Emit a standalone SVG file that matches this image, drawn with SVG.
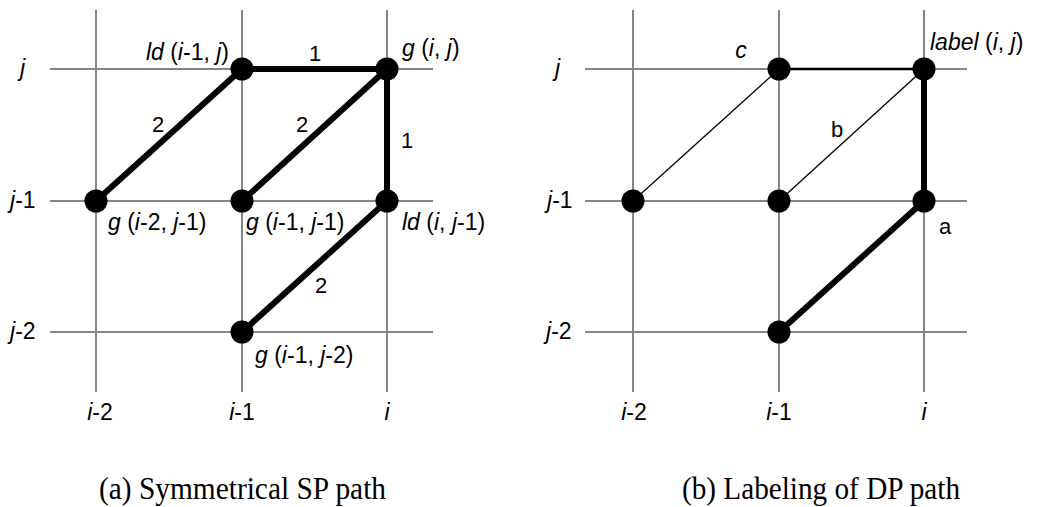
<svg xmlns="http://www.w3.org/2000/svg" width="1043" height="507" viewBox="0 0 1043 507">
<style>
.grid{stroke:#858585;stroke-width:2;fill:none}
.thick{stroke:#000;stroke-width:6;fill:none;stroke-linecap:round}
.mid{stroke:#000;stroke-width:2.5;fill:none}
.thin{stroke:#000;stroke-width:1.3;fill:none}
.node{fill:#000}
text{font-family:"Liberation Sans",Arial,sans-serif;font-size:23px;fill:#000}
.el{font-size:22px}
.cap{font-family:"Liberation Serif","Times New Roman",serif;font-size:31px}
.it{font-style:italic}
</style>
<rect width="1043" height="507" fill="#fff"/>
<g id="grid-a">
<line class="grid" x1="50" y1="69" x2="433" y2="69"/>
<line class="grid" x1="50" y1="201" x2="433" y2="201"/>
<line class="grid" x1="50" y1="332" x2="433" y2="332"/>
<line class="grid" x1="96" y1="10" x2="96" y2="392"/>
<line class="grid" x1="242" y1="10" x2="242" y2="392"/>
<line class="grid" x1="387" y1="10" x2="387" y2="392"/>
</g>
<g id="grid-b">
<line class="grid" x1="585" y1="69" x2="967" y2="69"/>
<line class="grid" x1="585" y1="201" x2="967" y2="201"/>
<line class="grid" x1="585" y1="332" x2="967" y2="332"/>
<line class="grid" x1="633" y1="10" x2="633" y2="392"/>
<line class="grid" x1="779" y1="10" x2="779" y2="392"/>
<line class="grid" x1="924" y1="10" x2="924" y2="392"/>
</g>
<g id="connectors">
<line class="thick" x1="242" y1="69" x2="387" y2="69"/>
<line class="thick" x1="96" y1="201" x2="242" y2="69"/>
<line class="thick" x1="242" y1="201" x2="387" y2="69"/>
<line class="thick" x1="387" y1="69" x2="387" y2="201"/>
<line class="thick" x1="387" y1="201" x2="242" y2="332"/>
<line class="mid" x1="779" y1="69" x2="924" y2="69"/>
<line class="thin" x1="633" y1="201" x2="779" y2="69"/>
<line class="thin" x1="779" y1="201" x2="924" y2="69"/>
<line class="thick" x1="924" y1="69" x2="924" y2="201"/>
<line class="thick" x1="924" y1="201" x2="779" y2="332"/>
</g>
<g id="edge-labels">
<text class="el" x="315" y="61" text-anchor="middle">1</text>
<text class="el" x="158" y="132" text-anchor="middle">2</text>
<text class="el" x="302" y="132" text-anchor="middle">2</text>
<text class="el" x="407" y="148" text-anchor="middle">1</text>
<text class="el" x="321" y="293" text-anchor="middle">2</text>
<text class="el" x="837" y="137" text-anchor="middle">b</text>
<text class="el" x="945" y="234" text-anchor="middle">a</text>
</g>
<g id="n-ld-i1-j"><circle class="node" cx="242" cy="69" r="11.5"/><text x="229" y="60" text-anchor="end"><tspan class="it">ld</tspan> (<tspan class="it">i</tspan>-1, <tspan class="it">j</tspan>)</text></g>
<g id="n-g-i-j"><circle class="node" cx="387" cy="69" r="11.5"/><text x="402" y="56"><tspan class="it">g</tspan> (<tspan class="it">i</tspan>, <tspan class="it">j</tspan>)</text></g>
<g id="n-g-i2-j1"><circle class="node" cx="96" cy="201" r="11.5"/><text x="108" y="230"><tspan class="it">g</tspan> (<tspan class="it">i</tspan>-2, <tspan class="it">j</tspan>-1)</text></g>
<g id="n-g-i1-j1"><circle class="node" cx="242" cy="201" r="11.5"/><text x="246" y="230"><tspan class="it">g</tspan> (<tspan class="it">i</tspan>-1, <tspan class="it">j</tspan>-1)</text></g>
<g id="n-ld-i-j1"><circle class="node" cx="387" cy="201" r="11.5"/><text x="402" y="230"><tspan class="it">ld</tspan> (<tspan class="it">i</tspan>, <tspan class="it">j</tspan>-1)</text></g>
<g id="n-g-i1-j2"><circle class="node" cx="242" cy="332" r="11.5"/><text x="255" y="363"><tspan class="it">g</tspan> (<tspan class="it">i</tspan>-1, <tspan class="it">j</tspan>-2)</text></g>
<g id="n-c"><circle class="node" cx="779" cy="69" r="11.5"/><text class="it" x="741" y="58" text-anchor="middle">c</text></g>
<g id="n-label"><circle class="node" cx="924" cy="69" r="11.5"/><text x="930" y="50"><tspan class="it">label</tspan> (<tspan class="it">i</tspan>, <tspan class="it">j</tspan>)</text></g>
<g id="n-b1"><circle class="node" cx="633" cy="201" r="11.5"/></g>
<g id="n-b2"><circle class="node" cx="779" cy="201" r="11.5"/></g>
<g id="n-a"><circle class="node" cx="924" cy="201" r="11.5"/></g>
<g id="n-b4"><circle class="node" cx="779" cy="332" r="11.5"/></g>
<g id="axes-a">
<text x="20" y="76"><tspan class="it">j</tspan></text>
<text x="10" y="208"><tspan class="it">j</tspan>-1</text>
<text x="10" y="339"><tspan class="it">j</tspan>-2</text>
<text x="100" y="420" text-anchor="middle"><tspan class="it">i</tspan>-2</text>
<text x="242" y="420" text-anchor="middle"><tspan class="it">i</tspan>-1</text>
<text x="387" y="420" text-anchor="middle"><tspan class="it">i</tspan></text>
</g>
<g id="axes-b">
<text x="555" y="76"><tspan class="it">j</tspan></text>
<text x="547" y="208"><tspan class="it">j</tspan>-1</text>
<text x="546" y="339"><tspan class="it">j</tspan>-2</text>
<text x="634" y="420" text-anchor="middle"><tspan class="it">i</tspan>-2</text>
<text x="779" y="420" text-anchor="middle"><tspan class="it">i</tspan>-1</text>
<text x="924" y="420" text-anchor="middle"><tspan class="it">i</tspan></text>
</g>
<g id="captions">
<text class="cap" x="99" y="499" textLength="287" lengthAdjust="spacingAndGlyphs">(a) Symmetrical SP path</text>
<text class="cap" x="682" y="499" textLength="278" lengthAdjust="spacingAndGlyphs">(b) Labeling of DP path</text>
</g>
</svg>
